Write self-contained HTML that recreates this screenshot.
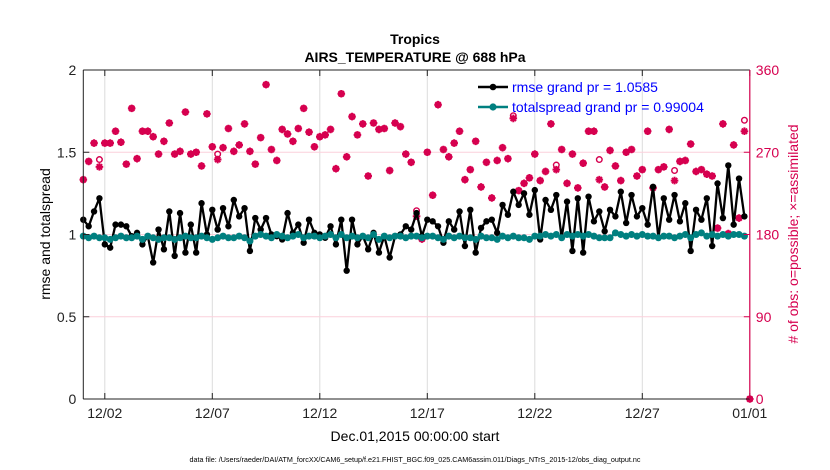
<!DOCTYPE html>
<html><head><meta charset="utf-8">
<style>
html,body{margin:0;padding:0;background:#fff;}
svg{display:block;font-family:"Liberation Sans",Arial,sans-serif;}
</style></head>
<body>
<svg id="chart" width="830" height="470" viewBox="0 0 830 470" xmlns="http://www.w3.org/2000/svg">
<rect x="0" y="0" width="830" height="470" fill="#fff"/>
<text x="415" y="44" text-anchor="middle" font-size="14" font-weight="bold" fill="#000">Tropics</text>
<text x="415" y="62" text-anchor="middle" font-size="14" font-weight="bold" fill="#000">AIRS_TEMPERATURE @ 688 hPa</text>
<g id="grid"></g>
<g id="series"></g>
<g id="axes"></g>
<text x="0" y="0" transform="translate(50,234) rotate(-90)" text-anchor="middle" font-size="14" fill="#000">rmse and totalspread</text>
<text x="0" y="0" transform="translate(798,234) rotate(-90)" text-anchor="middle" font-size="14" fill="#d6004f"># of obs: o=possible; ×=assimilated</text>
<text x="415" y="441" text-anchor="middle" font-size="14" fill="#000">Dec.01,2015 00:00:00 start</text>
<text x="415" y="462" text-anchor="middle" font-size="7.2" fill="#000">data file: /Users/raeder/DAI/ATM_forcXX/CAM6_setup/f.e21.FHIST_BGC.f09_025.CAM6assim.011/Diags_NTrS_2015-12/obs_diag_output.nc</text>
<g id="legend">
  <g>
    <line x1="478" y1="87" x2="508" y2="87" stroke="#000" stroke-width="2.5"/>
    <circle cx="493" cy="87" r="3.3" fill="#000"/>
    <text x="512" y="92" font-size="14" fill="#0000ff">rmse grand pr = 1.0585</text>
  </g>
  <g>
    <line x1="478" y1="107" x2="508" y2="107" stroke="#008080" stroke-width="2.5"/>
    <circle cx="493" cy="107" r="3.6" fill="#008080"/>
    <text x="512" y="112" font-size="14" fill="#0000ff">totalspread grand pr = 0.99004</text>
  </g>
</g>
</svg>
<script>
const rmse = [1.09,1.05,1.14,1.22,0.94,0.92,1.06,1.06,1.05,0.99,1.01,0.94,0.99,0.83,1.03,0.91,1.14,0.87,1.13,0.89,
1.06,0.89,1.19,1.0,1.15,1.03,1.16,1.05,1.21,1.11,1.16,0.9,1.1,1.03,1.1,1.0,0.99,0.97,1.13,1.01,
1.06,0.95,1.09,1.01,1.0,0.98,1.05,0.94,1.09,0.78,1.09,0.94,0.99,0.91,1.01,0.89,0.99,0.86,0.99,1.0,
1.05,1.03,1.13,0.99,1.09,1.08,1.05,0.95,1.08,1.03,1.14,0.93,1.15,0.89,1.04,1.08,1.09,1.01,1.18,1.12,
1.26,1.18,1.25,1.12,1.27,0.97,1.21,1.15,1.24,0.98,1.2,0.9,1.22,0.89,1.23,1.08,1.14,1.02,1.15,1.11,
1.26,1.07,1.24,1.11,1.16,1.06,1.29,0.98,1.22,1.09,1.24,1.08,1.19,0.9,1.15,1.09,1.22,0.93,1.31,1.1,
1.42,1.06,1.34,1.11];
const spread = [0.99,0.98,0.99,0.98,0.98,0.97,0.98,0.99,0.98,0.98,0.99,0.97,0.99,0.98,0.97,0.98,0.98,0.97,0.98,0.99,
0.98,0.98,0.99,0.98,0.97,0.98,0.99,0.98,0.98,0.99,0.98,0.96,0.99,1.0,0.99,0.98,1.0,0.99,0.98,0.99,
1.0,0.98,0.99,0.99,0.98,0.99,1.0,0.98,1.0,0.98,0.99,0.98,0.99,0.98,1.0,0.97,0.99,0.98,0.99,0.99,
0.98,0.99,0.99,0.98,0.99,0.99,0.98,0.97,0.99,0.98,0.99,0.98,0.98,0.97,0.99,0.98,0.98,0.97,0.99,0.98,
0.99,0.98,0.98,0.97,0.99,0.99,1.0,0.99,1.0,0.98,1.0,0.99,1.0,0.99,1.0,0.99,0.98,0.98,0.98,1.01,
1.0,0.99,1.0,0.99,1.0,0.99,0.99,0.98,0.99,0.99,0.98,0.99,1.0,0.98,1.0,1.01,0.99,1.0,0.99,1.0,
0.99,1.0,1.0,0.99];
const assimilated = [240,260,280,254,280,280,293,281,257,318,263,293,293,287,268,282,302,268,271,314,
268,270,255,312,276,262,275,296,271,278,301,271,257,286,344,273,261,295,290,282,
296,318,292,276,287,289,295,252,334,265,309,289,301,244,302,295,296,250,302,298,
268,259,200,175,270,223,322,273,265,280,293,240,251,282,232,259,220,261,275,263,
307,228,236,242,268,239,249,301,251,273,236,268,231,258,293,293,240,232,272,255,
239,270,273,244,251,293,231,251,254,295,239,260,261,279,249,251,246,244,187,301,
181,278,198,293,0];
const possibleIdx = [3,25,88,96,110,123,62,80];
const possibleVal = [262,268,256,262,250,305,206,310];
const xTicks = [1,6,11,16,21,26,31];
const xTickLabels = ["12/02","12/07","12/12","12/17","12/22","12/27","01/01"];
const yTicks = [0,0.5,1,1.5,2];
const y2Ticks = [0,90,180,270,360];

const NS = "http://www.w3.org/2000/svg";
const L = 83.3, R = 749.8, T = 70, B = 399;
const xOfDay = d => L + (R - L) * d / 31;
const xOfIdx = i => xOfDay(i / 4);
const yL = v => B - (B - T) * v / 2;
const yR = v => B - (B - T) * v / 360;
function mk(tag, attrs, parent){ const e = document.createElementNS(NS, tag); for (const k in attrs) e.setAttribute(k, attrs[k]); parent.appendChild(e); return e; }
const grid = document.getElementById('grid'), series = document.getElementById('series'), axes = document.getElementById('axes');

xTicks.forEach((d,i) => {
  const g = mk('line', {x1:xOfDay(d), x2:xOfDay(d), y1:T, y2:B, stroke:'#dcdcdc', 'stroke-width':1}, grid);
  
  
  const t = mk('line', {x1:xOfDay(d), x2:xOfDay(d), y1:B, y2:B-6, stroke:'#222', 'stroke-width':1}, axes);
  
  
  const t2 = mk('line', {x1:xOfDay(d), x2:xOfDay(d), y1:T, y2:T+6, stroke:'#222', 'stroke-width':1}, axes);
  
  
  const lb = mk('text', {x:xOfDay(d), y:B+19, 'text-anchor':'middle', 'font-size':14, fill:'#222'}, axes);
  lb.textContent = xTickLabels[i];
  
  
});
y2Ticks.forEach(v => {
  if (v > 0 && v < 360) {
    const g = mk('line', {x1:L, x2:R, y1:yR(v), y2:yR(v), stroke:'#fbd0dc', 'stroke-width':1}, grid);
    
    
  }
  const t = mk('line', {x1:R-6, x2:R, y1:yR(v), y2:yR(v), stroke:'#d6004f', 'stroke-width':1}, axes);
  
  
  const lb = mk('text', {x:R+6, y:yR(v)+5, 'font-size':14, fill:'#d6004f'}, axes);
  lb.textContent = v;
  
  
});
yTicks.forEach(v => {
  const t = mk('line', {x1:L, x2:L+6, y1:yL(v), y2:yL(v), stroke:'#222', 'stroke-width':1}, axes);
  
  
  const lb = mk('text', {x:L-7, y:yL(v)+5, 'text-anchor':'end', 'font-size':14, fill:'#222'}, axes);
  lb.textContent = v;
  
  
});
const axL = mk('line', {x1:L, x2:L, y1:T, y2:B, stroke:'#222', 'stroke-width':1}, axes);


const axB = mk('line', {x1:L, x2:R, y1:B, y2:B, stroke:'#222', 'stroke-width':1}, axes);


const axT = mk('line', {x1:L, x2:R, y1:T, y2:T, stroke:'#222', 'stroke-width':1}, axes);


const axR = mk('line', {x1:R, x2:R, y1:T, y2:B, stroke:'#d6004f', 'stroke-width':1.2}, axes);



// obs counts
const possible = assimilated.slice();
possibleIdx.forEach((idx,k) => { possible[idx] = possibleVal[k]; });
possible.forEach((v,i) => {
  const c = mk('circle', {cx:xOfIdx(i), cy:yR(v), r:2.8, fill:'none', stroke:'#d6004f', 'stroke-width':1.4}, series);
  
  
});
assimilated.forEach((v,i) => {
  const x = xOfIdx(i), y = yR(v), s = 3.8;
  const p = mk('path', {d:`M${x-s} ${y}H${x+s}M${x} ${y-s}V${y+s}M${x-s*0.7} ${y-s*0.7}L${x+s*0.7} ${y+s*0.7}M${x-s*0.7} ${y+s*0.7}L${x+s*0.7} ${y-s*0.7}`, stroke:'#d6004f', 'stroke-width':2, fill:'none'}, series);
  
  
});

function drawLine(arr, color, r, name){
  const d = arr.map((v,i) => (i ? 'L' : 'M') + xOfIdx(i).toFixed(1) + ' ' + yL(v).toFixed(1)).join('');
  const pl = mk('path', {d:d, fill:'none', stroke:color, 'stroke-width':2.3, 'stroke-linejoin':'round'}, series);
  
  
  arr.forEach((v,i) => {
    const c = mk('circle', {cx:xOfIdx(i), cy:yL(v), r:r, fill:color}, series);
    
    
  });
}
drawLine(rmse, '#000', 3.2, 'rmse');
drawLine(spread, '#008080', 3.5, 'totalspread');
</script>
</body></html>
